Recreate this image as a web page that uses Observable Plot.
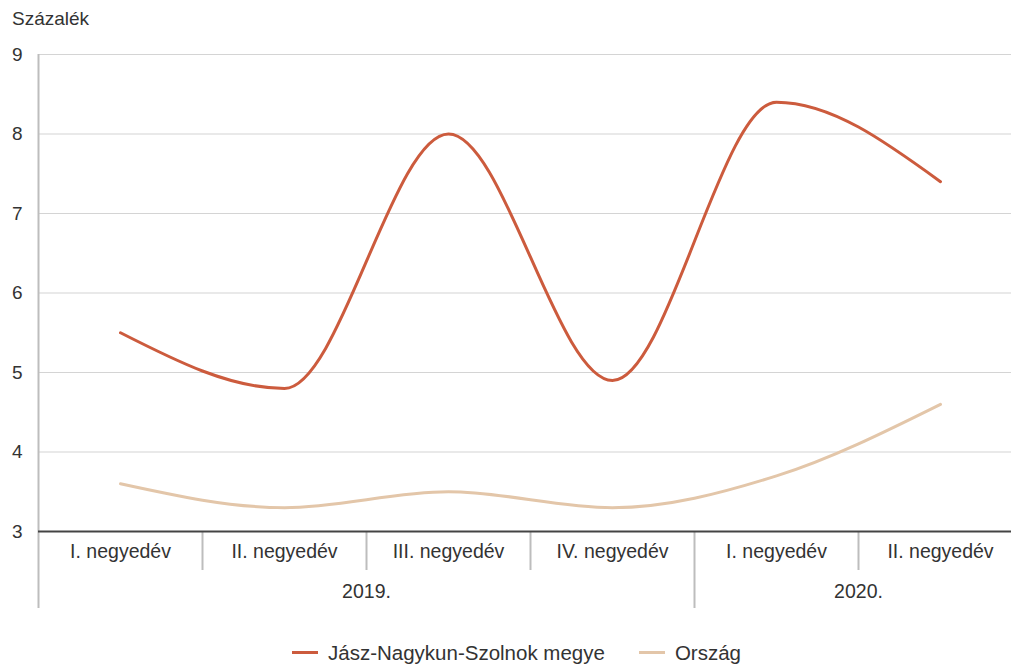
<!DOCTYPE html>
<html>
<head>
<meta charset="utf-8">
<script src="https://cdn.jsdelivr.net/npm/d3@7"></script>
<script src="https://cdn.jsdelivr.net/npm/@observablehq/plot@0.6"></script>
<style>
  html, body { margin: 0; padding: 0; background: #fff; }
  body { width: 1011px; height: 664px; overflow: hidden; font-family: "Liberation Sans", Arial, sans-serif; color: #333; }
  #title { height: 40px; box-sizing: border-box; padding-left: 12px; padding-top: 9px; font-size: 19px; line-height: 20px; }
  #chart svg { display: block; }
  #legend { height: 34px; box-sizing: border-box; padding-top: 11px; padding-left: 292px; display: flex; align-items: center; font-size: 20.5px; line-height: 22px; }
  .item { display: flex; align-items: center; margin-right: 34px; }
  .sw { width: 26px; height: 3px; margin-right: 10px; }
</style>
</head>
<body>
<div id="title">Százalék</div>
<div id="chart"></div>
<div id="legend"></div>
<script>
const quarters = ["I. negyedév", "II. negyedév", "III. negyedév", "IV. negyedév", "I. negyedév", "II. negyedév"];
const years = ["2019.", "2020."];
const yearPos = [1.5, 4.5];
const separators = [0.5, 1.5, 2.5, 4.5];
const yearSeparators = [3.5];
const yTicks = [3, 4, 5, 6, 7, 8, 9];
const seriesNames = ["Jász-Nagykun-Szolnok megye", "Ország"];
const seriesColors = ["#cc5b3d", "#e3c6a9"];
const county = [5.5, 4.8, 8.0, 4.9, 8.4, 7.4];
const country = [3.6, 3.3, 3.5, 3.3, 3.7, 4.6];

const rows = [];
quarters.forEach((q, i) => {
  rows.push({i, series: seriesNames[0], value: county[i]});
  rows.push({i, series: seriesNames[1], value: country[i]});
});
const qIdx = quarters.map((q, i) => i);

const plot = Plot.plot({
  width: 1011,
  height: 590,
  marginTop: 14,
  marginBottom: 99,
  marginLeft: 38,
  marginRight: 0,
  style: { fontFamily: "'Liberation Sans', Arial, sans-serif", fontSize: "19px", color: "#333" },
  x: { domain: [-0.5, 5.5], range: [38, 1022], axis: null },
  y: { domain: [3, 9], axis: null },
  color: { domain: seriesNames, range: seriesColors },
  marks: [
    Plot.ruleY(yTicks.filter(d => d > 3), { stroke: "#d4d4d4", strokeWidth: 1.2 }),
    Plot.axisY({ ticks: yTicks, tickSize: 0, tickPadding: 16, tickFormat: d => d, fontSize: 19, fill: "#333", label: null }),
    Plot.lineY(rows, { x: "i", y: "value", z: "series", stroke: "series", strokeWidth: 3, curve: "monotone-x" }),
    Plot.ruleX([-0.5], { y1: 9, y2: 3, insetBottom: -77, stroke: "#bdbdbd", strokeWidth: 2 }),
    Plot.ruleX(separators, { y1: 3, y2: 3, insetBottom: -39, stroke: "#bdbdbd", strokeWidth: 2 }),
    Plot.ruleX(yearSeparators, { y1: 3, y2: 3, insetBottom: -77, stroke: "#bdbdbd", strokeWidth: 2 }),
    Plot.ruleY([3], { stroke: "#444", strokeWidth: 2 }),
    Plot.text(qIdx, { x: d => d, y: () => 3, text: d => quarters[d], dy: 20, lineAnchor: "middle", fontSize: 19.5, fill: "#333" }),
    Plot.text(years, { x: (d, i) => yearPos[i], y: () => 3, text: d => d, dy: 60, lineAnchor: "middle", fontSize: 19.5, fill: "#333" })
  ]
});
document.getElementById("chart").appendChild(plot);

const legend = document.getElementById("legend");
seriesNames.forEach((name, i) => {
  const item = document.createElement("div");
  item.className = "item";
  const sw = document.createElement("div");
  sw.className = "sw";
  sw.style.background = seriesColors[i];
  const t = document.createElement("span");
  t.textContent = name;
  item.appendChild(sw);
  item.appendChild(t);
  legend.appendChild(item);
});
</script>
</body>
</html>
